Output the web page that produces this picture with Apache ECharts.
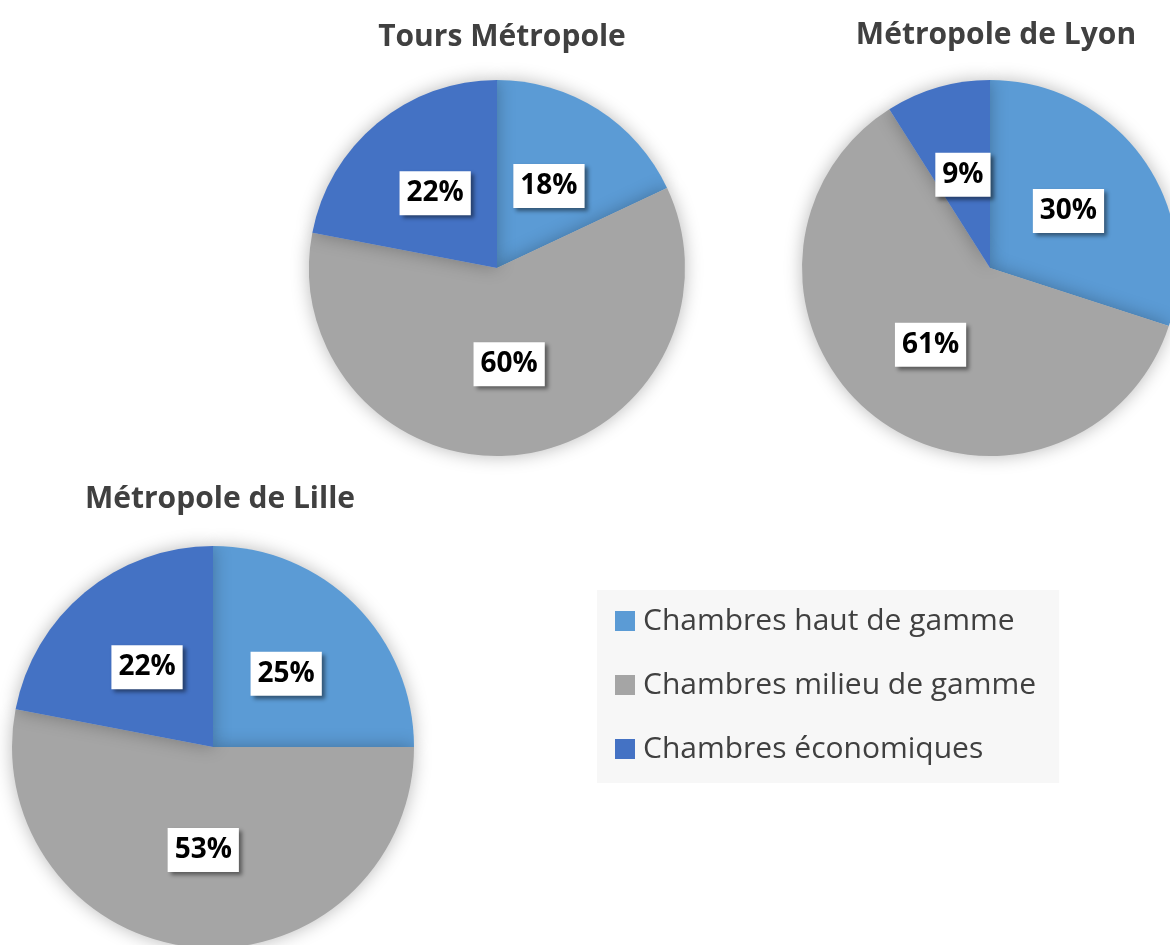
<!DOCTYPE html>
<html>
<head>
<meta charset="utf-8">
<script src="https://cdn.jsdelivr.net/npm/echarts@6/dist/echarts.min.js"></script>
<style>html,body{margin:0;padding:0;background:#fff;}#c{width:1170px;height:945px;}</style>
</head>
<body>
<div id="c"></div>
<script>
const categories = ['Chambres haut de gamme', 'Chambres milieu de gamme', 'Chambres économiques'];
const colors = ['#5B9BD5', '#A5A5A5', '#4472C4'];
const titles = ['Tours Métropole', 'Métropole de Lyon', 'Métropole de Lille'];
const toursValues = [18, 60, 22];
const lyonValues = [30, 61, 9];
const lilleValues = [25, 53, 22];

const chart = echarts.init(document.getElementById('c'), null, {renderer: 'canvas'});
const font = '"Open Sans", "Noto Sans", sans-serif';

function pie(name, values, center, radius) {
  return {
    type: 'pie',
    name: name,
    center: center,
    radius: radius,
    startAngle: 90,
    clockwise: true,
    silent: true,
    animation: false,
    itemStyle: {shadowBlur: 18, shadowColor: 'rgba(0,0,0,0.28)'},
    label: {
      show: true,
      position: 'inside',
      formatter: '{c}%',
      color: '#000',
      fontFamily: font,
      fontWeight: 'bold',
      fontSize: 28,
      lineHeight: 30,
      backgroundColor: '#fff',
      padding: [8, 7, 6, 7],
      shadowColor: 'rgba(0,0,0,0.45)',
      shadowBlur: 4,
      shadowOffsetX: 3,
      shadowOffsetY: 3
    },
    labelLine: {show: false},
    data: categories.map((c, i) => ({name: c, value: values[i], itemStyle: {color: colors[i]}}))
  };
}

const titleStyle = {fontFamily: font, fontWeight: 'bold', fontSize: 30, color: '#404040'};

chart.setOption({
  animation: false,
  color: colors,
  title: [
    {text: titles[0], left: 497, top: 17, textAlign: 'center', textStyle: titleStyle},
    {text: titles[1], left: 991, top: 15, textAlign: 'center', textStyle: titleStyle},
    {text: titles[2], left: 215, top: 479, textAlign: 'center', textStyle: titleStyle}
  ],
  legend: {
    orient: 'vertical',
    left: 597,
    top: 590,
    padding: [16, 23, 19, 18],
    backgroundColor: '#f7f7f7',
    icon: 'rect',
    itemWidth: 20,
    itemHeight: 20,
    itemGap: 34,
    selectedMode: false,
    textStyle: {fontFamily: font, fontSize: 30, color: '#404040', padding: [0, 0, 0, 3]},
    data: categories
  },
  series: [
    pie(titles[0], toursValues, [497, 268], 188),
    pie(titles[1], lyonValues, [990, 268], 188),
    pie(titles[2], lilleValues, [213, 747], 201)
  ]
});
</script>
</body>
</html>
